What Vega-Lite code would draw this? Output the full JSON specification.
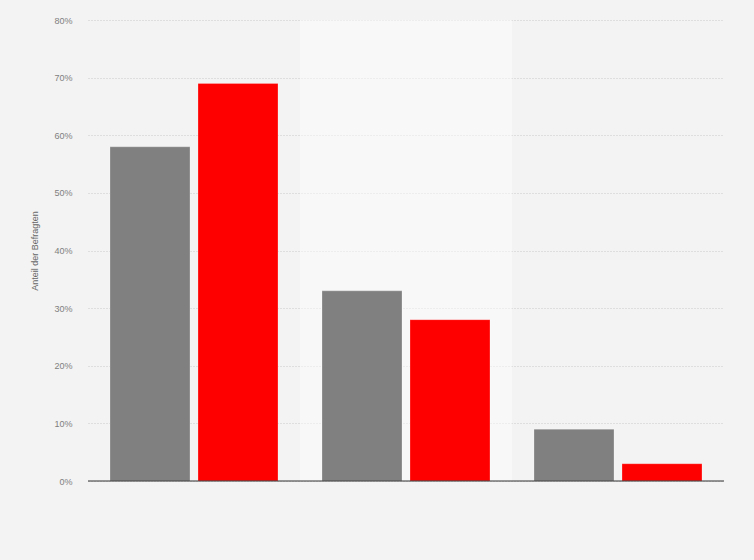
{
  "$schema": "https://vega.github.io/schema/vega-lite/v6.json",
  "autosize": {"type": "none"},
  "width": 636,
  "height": 461,
  "padding": {"left": 88, "top": 20, "right": 30, "bottom": 79},
  "background": "#f3f3f3",
  "config": {
    "view": {"stroke": null},
    "font": "Liberation Sans"
  },
  "datasets": {
    "bands": [
      {"gruppe": "A", "hell": 0},
      {"gruppe": "B", "hell": 1},
      {"gruppe": "C", "hell": 0}
    ],
    "werte": [
      {"gruppe": "A", "reihe": "1", "anteil": 58},
      {"gruppe": "A", "reihe": "2", "anteil": 69},
      {"gruppe": "B", "reihe": "1", "anteil": 33},
      {"gruppe": "B", "reihe": "2", "anteil": 28},
      {"gruppe": "C", "reihe": "1", "anteil": 9},
      {"gruppe": "C", "reihe": "2", "anteil": 3}
    ]
  },
  "encoding": {
    "x": {
      "field": "gruppe",
      "type": "nominal",
      "scale": {"domain": ["A", "B", "C"], "paddingInner": 0, "paddingOuter": 0},
      "axis": {"labels": false, "ticks": false, "title": null, "domain": false}
    }
  },
  "layer": [
    {
      "data": {"name": "bands"},
      "mark": {"type": "rect", "fill": "#ffffff"},
      "encoding": {
        "y": {"datum": 80, "type": "quantitative", "scale": {"domain": [0, 80]}},
        "y2": {"datum": 0},
        "opacity": {
          "field": "hell",
          "type": "quantitative",
          "scale": {"domain": [0, 1], "range": [0, 0.45]},
          "legend": null
        }
      }
    },
    {
      "data": {"name": "werte"},
      "mark": {"type": "bar", "stroke": "#ffffff", "strokeOpacity": 0.25, "strokeWidth": 1},
      "encoding": {
        "xOffset": {
          "field": "reihe",
          "type": "nominal",
          "scale": {"paddingInner": 0.0909, "paddingOuter": 0.25}
        },
        "y": {
          "field": "anteil",
          "type": "quantitative",
          "scale": {"domain": [0, 80], "nice": false},
          "axis": {
            "title": "Anteil der Befragten",
            "titleFontSize": 9,
            "titleFontWeight": "normal",
            "titleColor": "#666666",
            "titlePadding": 14,
            "values": [0, 10, 20, 30, 40, 50, 60, 70, 80],
            "labelExpr": "datum.value + '%'",
            "labelFontSize": 9,
            "labelColor": "#808080",
            "labelPadding": 16,
            "ticks": false,
            "domain": false,
            "grid": true,
            "gridColor": "#c8c8c8",
            "gridDash": [1, 2],
            "gridWidth": 1
          }
        },
        "color": {
          "field": "reihe",
          "type": "nominal",
          "scale": {"domain": ["1", "2"], "range": ["#808080", "#ff0000"]},
          "legend": null
        }
      }
    },
    {
      "data": {"values": [{"null": 0}]},
      "mark": {"type": "rule", "color": "#333333", "strokeWidth": 1.2},
      "encoding": {
        "y": {"datum": 0, "type": "quantitative"},
        "x": {"value": 0},
        "x2": {"value": 636}
      }
    }
  ]
}
